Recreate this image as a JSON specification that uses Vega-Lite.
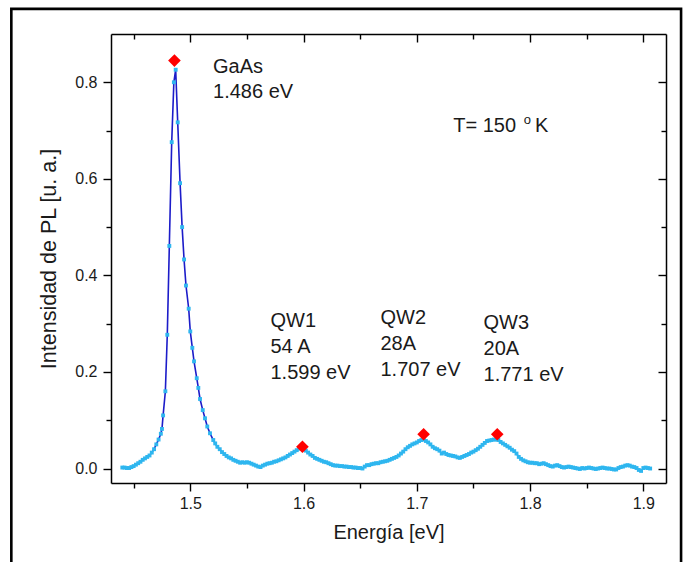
{
  "$schema": "https://vega.github.io/schema/vega-lite/v6.json",
  "width": 555,
  "height": 449,
  "autosize": {"type": "none"},
  "padding": {"left": 111, "top": 34, "right": 17, "bottom": 79},
  "background": "white",
  "datasets": {
    "spectrum": [
      {"e":1.440,"i":0.002},{"e":1.442,"i":0.002},{"e":1.444,"i":0.001},{"e":1.446,"i":0.001},{"e":1.448,"i":0.003},
      {"e":1.450,"i":0.005},{"e":1.452,"i":0.008},{"e":1.454,"i":0.011},{"e":1.456,"i":0.014},{"e":1.458,"i":0.018},
      {"e":1.460,"i":0.021},{"e":1.462,"i":0.024},{"e":1.464,"i":0.027},{"e":1.466,"i":0.033},{"e":1.468,"i":0.040},
      {"e":1.470,"i":0.050},{"e":1.472,"i":0.060},{"e":1.474,"i":0.072},{"e":1.475,"i":0.082},{"e":1.476,"i":0.110},
      {"e":1.478,"i":0.160},{"e":1.4797,"i":0.277},{"e":1.4815,"i":0.461},{"e":1.4836,"i":0.676},{"e":1.4855,"i":0.800},
      {"e":1.4871,"i":0.826},{"e":1.4889,"i":0.717},{"e":1.4910,"i":0.591},{"e":1.4928,"i":0.500},{"e":1.4945,"i":0.433},
      {"e":1.4962,"i":0.379},{"e":1.4986,"i":0.331},{"e":1.5000,"i":0.284},{"e":1.5018,"i":0.250},{"e":1.5033,"i":0.222},
      {"e":1.5057,"i":0.187},{"e":1.5071,"i":0.167},{"e":1.5086,"i":0.144},{"e":1.5110,"i":0.121},{"e":1.5130,"i":0.104},
      {"e":1.5150,"i":0.087},{"e":1.5174,"i":0.073},{"e":1.5203,"i":0.059},{"e":1.522,"i":0.052},{"e":1.5239,"i":0.045},
      {"e":1.526,"i":0.040},{"e":1.528,"i":0.034},{"e":1.530,"i":0.030},{"e":1.532,"i":0.026},{"e":1.534,"i":0.023},
      {"e":1.536,"i":0.021},{"e":1.538,"i":0.018},{"e":1.540,"i":0.016},{"e":1.542,"i":0.014},{"e":1.544,"i":0.012},
      {"e":1.546,"i":0.013},{"e":1.548,"i":0.012},{"e":1.550,"i":0.013},{"e":1.552,"i":0.012},{"e":1.554,"i":0.010},
      {"e":1.556,"i":0.008},{"e":1.558,"i":0.006},{"e":1.560,"i":0.004},{"e":1.562,"i":0.003},{"e":1.564,"i":0.006},
      {"e":1.566,"i":0.008},{"e":1.568,"i":0.010},{"e":1.570,"i":0.011},{"e":1.572,"i":0.012},{"e":1.574,"i":0.014},
      {"e":1.576,"i":0.015},{"e":1.578,"i":0.017},{"e":1.580,"i":0.019},{"e":1.582,"i":0.021},{"e":1.584,"i":0.023},
      {"e":1.586,"i":0.026},{"e":1.588,"i":0.029},{"e":1.590,"i":0.032},{"e":1.592,"i":0.035},{"e":1.594,"i":0.038},
      {"e":1.596,"i":0.041},{"e":1.598,"i":0.043},{"e":1.600,"i":0.041},{"e":1.602,"i":0.037},{"e":1.604,"i":0.033},
      {"e":1.606,"i":0.029},{"e":1.608,"i":0.026},{"e":1.610,"i":0.022},{"e":1.612,"i":0.020},{"e":1.614,"i":0.018},
      {"e":1.616,"i":0.016},{"e":1.618,"i":0.014},{"e":1.620,"i":0.013},{"e":1.622,"i":0.011},{"e":1.624,"i":0.009},
      {"e":1.626,"i":0.007},{"e":1.628,"i":0.006},{"e":1.630,"i":0.006},{"e":1.632,"i":0.005},{"e":1.634,"i":0.005},
      {"e":1.636,"i":0.004},{"e":1.638,"i":0.004},{"e":1.640,"i":0.003},{"e":1.642,"i":0.003},{"e":1.644,"i":0.002},
      {"e":1.646,"i":0.002},{"e":1.648,"i":0.001},{"e":1.650,"i":0.001},{"e":1.652,"i":0.000},{"e":1.654,"i":0.004},
      {"e":1.656,"i":0.007},{"e":1.658,"i":0.007},{"e":1.660,"i":0.009},{"e":1.662,"i":0.010},{"e":1.664,"i":0.011},
      {"e":1.666,"i":0.011},{"e":1.668,"i":0.013},{"e":1.670,"i":0.014},{"e":1.672,"i":0.015},{"e":1.674,"i":0.016},
      {"e":1.676,"i":0.018},{"e":1.678,"i":0.020},{"e":1.680,"i":0.022},{"e":1.682,"i":0.024},{"e":1.684,"i":0.027},
      {"e":1.686,"i":0.031},{"e":1.688,"i":0.035},{"e":1.690,"i":0.040},{"e":1.692,"i":0.044},{"e":1.694,"i":0.047},
      {"e":1.696,"i":0.050},{"e":1.698,"i":0.052},{"e":1.700,"i":0.054},{"e":1.702,"i":0.057},{"e":1.704,"i":0.059},
      {"e":1.706,"i":0.060},{"e":1.708,"i":0.057},{"e":1.710,"i":0.054},{"e":1.712,"i":0.050},{"e":1.714,"i":0.045},
      {"e":1.716,"i":0.042},{"e":1.718,"i":0.040},{"e":1.720,"i":0.037},{"e":1.722,"i":0.031},{"e":1.724,"i":0.033},
      {"e":1.726,"i":0.030},{"e":1.728,"i":0.028},{"e":1.730,"i":0.027},{"e":1.732,"i":0.026},{"e":1.734,"i":0.025},
      {"e":1.736,"i":0.023},{"e":1.738,"i":0.022},{"e":1.740,"i":0.024},{"e":1.742,"i":0.026},{"e":1.744,"i":0.028},
      {"e":1.746,"i":0.030},{"e":1.748,"i":0.033},{"e":1.750,"i":0.035},{"e":1.752,"i":0.038},{"e":1.754,"i":0.041},
      {"e":1.756,"i":0.045},{"e":1.758,"i":0.049},{"e":1.760,"i":0.053},{"e":1.762,"i":0.057},{"e":1.764,"i":0.058},
      {"e":1.766,"i":0.059},{"e":1.768,"i":0.060},{"e":1.770,"i":0.060},{"e":1.772,"i":0.059},{"e":1.774,"i":0.055},
      {"e":1.776,"i":0.052},{"e":1.778,"i":0.049},{"e":1.780,"i":0.046},{"e":1.782,"i":0.043},{"e":1.784,"i":0.039},
      {"e":1.786,"i":0.036},{"e":1.788,"i":0.031},{"e":1.790,"i":0.024},{"e":1.792,"i":0.020},{"e":1.794,"i":0.017},
      {"e":1.796,"i":0.015},{"e":1.798,"i":0.013},{"e":1.800,"i":0.012},{"e":1.802,"i":0.012},{"e":1.804,"i":0.011},
      {"e":1.806,"i":0.011},{"e":1.808,"i":0.009},{"e":1.810,"i":0.010},{"e":1.812,"i":0.011},{"e":1.814,"i":0.009},
      {"e":1.816,"i":0.007},{"e":1.818,"i":0.005},{"e":1.820,"i":0.004},{"e":1.822,"i":0.006},{"e":1.824,"i":0.007},
      {"e":1.826,"i":0.005},{"e":1.828,"i":0.003},{"e":1.830,"i":0.002},{"e":1.832,"i":0.003},{"e":1.834,"i":0.004},
      {"e":1.836,"i":0.003},{"e":1.838,"i":0.002},{"e":1.840,"i":0.001},{"e":1.842,"i":0.000},{"e":1.844,"i":-0.001},
      {"e":1.846,"i":0.001},{"e":1.848,"i":0.000},{"e":1.850,"i":0.001},{"e":1.852,"i":0.002},{"e":1.854,"i":0.001},
      {"e":1.856,"i":0.000},{"e":1.858,"i":-0.001},{"e":1.860,"i":0.000},{"e":1.862,"i":0.001},{"e":1.864,"i":0.002},
      {"e":1.866,"i":0.001},{"e":1.868,"i":0.000},{"e":1.870,"i":0.000},{"e":1.872,"i":-0.001},{"e":1.874,"i":-0.002},
      {"e":1.876,"i":-0.002},{"e":1.878,"i":0.001},{"e":1.880,"i":0.003},{"e":1.882,"i":0.004},{"e":1.884,"i":0.006},
      {"e":1.886,"i":0.007},{"e":1.888,"i":0.006},{"e":1.890,"i":0.004},{"e":1.892,"i":0.003},{"e":1.894,"i":0.001},
      {"e":1.896,"i":-0.003},{"e":1.898,"i":-0.005},{"e":1.900,"i":0.001},{"e":1.902,"i":0.002},{"e":1.904,"i":0.001},
      {"e":1.906,"i":0.000}
    ],
    "peaks": [
      {"e":1.486,"i":0.845},
      {"e":1.599,"i":0.045},
      {"e":1.706,"i":0.071},
      {"e":1.771,"i":0.071}
    ],
    "notes": [
      {"e":1.5201,"i":0.8185,"t":"GaAs"},
      {"e":1.5201,"i":0.7668,"t":"1.486 eV"},
      {"e":1.5708,"i":0.2925,"t":"QW1"},
      {"e":1.5708,"i":0.2387,"t":"54 A"},
      {"e":1.5708,"i":0.1849,"t":"1.599 eV"},
      {"e":1.6679,"i":0.2988,"t":"QW2"},
      {"e":1.6679,"i":0.2449,"t":"28A"},
      {"e":1.6679,"i":0.1911,"t":"1.707 eV"},
      {"e":1.7589,"i":0.2884,"t":"QW3"},
      {"e":1.7589,"i":0.2346,"t":"20A"},
      {"e":1.7589,"i":0.1807,"t":"1.771 eV"},
      {"e":1.7322,"i":0.6969,"t":"T= 150"},
      {"e":1.8044,"i":0.6969,"t":"K"}
    ],
    "sup": [
      {"e":1.7945,"i":0.7128,"t":"o"}
    ],
    "frame": [
      {"x1":1.3420,"x2":1.9333,"y1":0.9520,"y2":-0.2209}
    ]
  },
  "layer": [
    {
      "data": {"name": "frame"},
      "mark": {"type": "rect", "fillOpacity": 0, "stroke": "#000000", "strokeWidth": 2.6, "clip": false},
      "encoding": {
        "x": {"field": "x1", "type": "quantitative", "scale": {"domain": [1.43, 1.92], "nice": false, "zero": false}, "axis": null},
        "x2": {"field": "x2"},
        "y": {"field": "y1", "type": "quantitative", "scale": {"domain": [-0.03, 0.9], "nice": false, "zero": false}, "axis": null},
        "y2": {"field": "y2"}
      }
    },
    {
      "data": {"name": "spectrum"},
      "mark": {"type": "line", "color": "#1c1cc9", "strokeWidth": 1.6},
      "encoding": {
        "x": {"field": "e", "type": "quantitative",
              "scale": {"domain": [1.43, 1.92], "nice": false, "zero": false},
              "axis": {"orient": "bottom", "values": [1.5, 1.6, 1.7, 1.8, 1.9], "format": ".1f",
                       "title": "Energía [eV]", "tickSize": 8, "labelPadding": 4, "titlePadding": 11, "titleFontSize": 20}},
        "y": {"field": "i", "type": "quantitative",
              "scale": {"domain": [-0.03, 0.9], "nice": false, "zero": false},
              "axis": {"orient": "left", "values": [0, 0.2, 0.4, 0.6, 0.8], "format": ".1f",
                       "title": "Intensidad de PL [u. a.]", "tickSize": 8, "labelPadding": 6, "titlePadding": 14, "titleFontSize": 21.5}}
      }
    },
    {
      "data": {"name": "spectrum"},
      "mark": {"type": "point", "shape": "square", "filled": true, "size": 15, "color": "#2eb6ef", "opacity": 1},
      "encoding": {
        "x": {"field": "e", "type": "quantitative",
              "scale": {"domain": [1.43, 1.92], "nice": false, "zero": false},
              "axis": {"orient": "bottom", "values": [1.45, 1.55, 1.65, 1.75, 1.85], "labels": false,
                       "domain": false, "tickSize": 5, "title": null}},
        "y": {"field": "i", "type": "quantitative",
              "scale": {"domain": [-0.03, 0.9], "nice": false, "zero": false},
              "axis": {"orient": "left", "values": [0.1, 0.3, 0.5, 0.7], "labels": false,
                       "domain": false, "tickSize": 5, "title": null}}
      }
    },
    {
      "data": {"name": "peaks"},
      "mark": {"type": "point", "shape": "diamond", "filled": true, "size": 160, "color": "#ff0000", "opacity": 1},
      "encoding": {
        "x": {"field": "e", "type": "quantitative",
              "scale": {"domain": [1.43, 1.92], "nice": false, "zero": false},
              "axis": {"orient": "top", "values": [1.5, 1.6, 1.7, 1.8, 1.9], "labels": false,
                       "tickSize": -8, "title": null}},
        "y": {"field": "i", "type": "quantitative",
              "scale": {"domain": [-0.03, 0.9], "nice": false, "zero": false},
              "axis": {"orient": "right", "values": [0, 0.2, 0.4, 0.6, 0.8], "labels": false,
                       "tickSize": -8, "title": null}}
      }
    },
    {
      "data": {"name": "notes"},
      "mark": {"type": "text", "align": "left", "baseline": "alphabetic", "fontSize": 20, "font": "Liberation Sans", "color": "#1a1a1a"},
      "encoding": {
        "x": {"field": "e", "type": "quantitative",
              "scale": {"domain": [1.43, 1.92], "nice": false, "zero": false},
              "axis": {"orient": "top", "values": [1.45, 1.55, 1.65, 1.75, 1.85], "labels": false,
                       "domain": false, "tickSize": -5, "title": null}},
        "y": {"field": "i", "type": "quantitative",
              "scale": {"domain": [-0.03, 0.9], "nice": false, "zero": false},
              "axis": {"orient": "right", "values": [0.1, 0.3, 0.5, 0.7], "labels": false,
                       "domain": false, "tickSize": -5, "title": null}},
        "text": {"field": "t", "type": "nominal"}
      }
    },
    {
      "data": {"name": "sup"},
      "mark": {"type": "text", "align": "left", "baseline": "alphabetic", "fontSize": 13, "font": "Liberation Sans", "color": "#1a1a1a"},
      "encoding": {
        "x": {"field": "e", "type": "quantitative", "scale": {"domain": [1.43, 1.92], "nice": false, "zero": false}, "axis": null},
        "y": {"field": "i", "type": "quantitative", "scale": {"domain": [-0.03, 0.9], "nice": false, "zero": false}, "axis": null},
        "text": {"field": "t", "type": "nominal"}
      }
    }
  ],
  "resolve": {
    "scale": {"x": "shared", "y": "shared"},
    "axis": {"x": "independent", "y": "independent"}
  },
  "config": {
    "font": "Liberation Sans",
    "view": {"stroke": null},
    "axis": {
      "grid": false,
      "domainColor": "#000000",
      "domainWidth": 1.5,
      "tickColor": "#000000",
      "tickWidth": 1.4,
      "labelColor": "#1a1a1a",
      "titleColor": "#1a1a1a",
      "labelFont": "Liberation Sans",
      "titleFont": "Liberation Sans",
      "labelFontSize": 16,
      "titleFontSize": 19.5,
      "titleFontWeight": "normal"
    }
  }
}
